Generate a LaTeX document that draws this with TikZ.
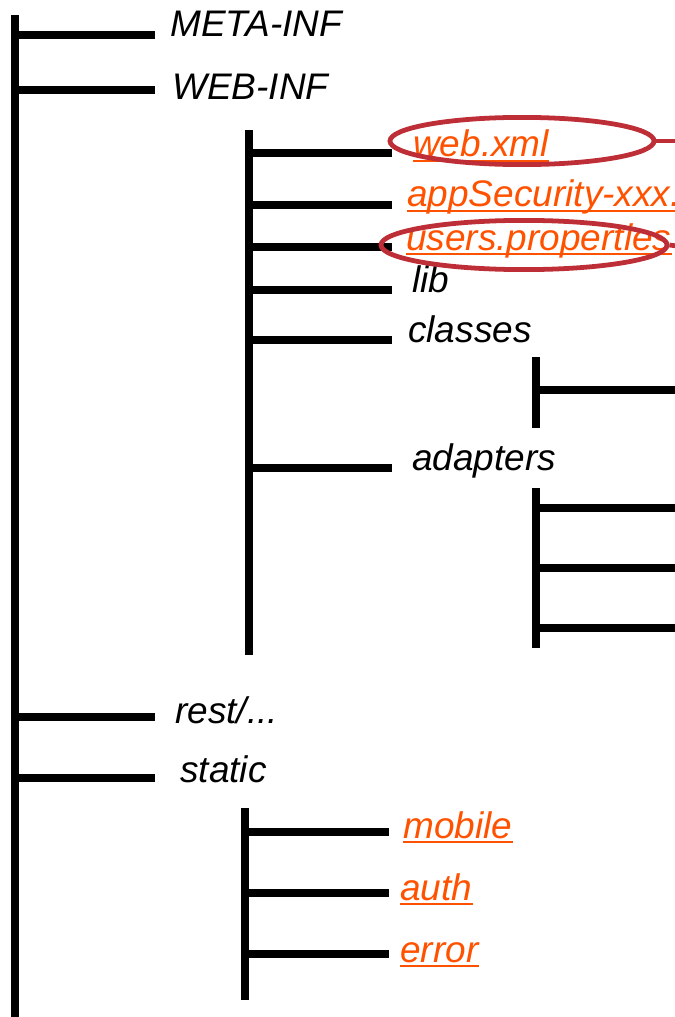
\documentclass[tikz,border=0pt]{standalone}
\usepackage{fontspec}
\setmainfont{Liberation Sans}
\usetikzlibrary{positioning,calc,shapes.geometric}
\definecolor{treeink}{HTML}{000000}
\definecolor{linkorange}{HTML}{FF5200}
\definecolor{ringred}{HTML}{BE2E37}

\begin{document}
\begin{tikzpicture}[x=0.025cm, y=-0.025cm,
  font=\fontsize{26.3}{30}\selectfont\itshape,
  bar/.style={draw=treeink, line width=5pt},
  twig/.style={draw=treeink, line width=5pt},
  lbl/.style={anchor=base west, inner sep=0pt, text=treeink},
  link/.style={anchor=base west, inner sep=0pt, text=linkorange},
  uline/.style={draw=linkorange, line width=1.6pt},
  ring/.style={ellipse, draw=ringred, line width=3.4pt, inner sep=0pt},
  ringline/.style={draw=ringred, line width=3.4pt}]
\useasboundingbox (0,0) rectangle (675,1017);
\clip (0,0) rectangle (675,1017);
% ===== root level =====
\coordinate (rootTop) at (15,15);
\coordinate (rootEnd) at (15,1030);
\draw[bar] (rootTop) -- (rootEnd);
\node[lbl] (meta) at (170,37) {META-INF};
\node[lbl] (webinf) at (172,100) {WEB-INF};
\node[lbl] (rest) at (175,723) {rest/...};
\node[lbl] (static) at (180,782) {static};
\coordinate (metaEnd) at (155,35);
\coordinate (webinfEnd) at (155,90);
\coordinate (restEnd) at (155,717);
\coordinate (staticEnd) at (155,778);
\draw[twig] (rootTop |- metaEnd) -- (metaEnd);
\draw[twig] (rootTop |- webinfEnd) -- (webinfEnd);
\draw[twig] (rootTop |- restEnd) -- (restEnd);
\draw[twig] (rootTop |- staticEnd) -- (staticEnd);
% ===== WEB-INF =====
\coordinate (infTop) at (249,130);
\coordinate (infEnd) at (249,655);
\draw[bar] (infTop) -- (infEnd);
\node[link] (webxml) at (413,157) {web.xml};
\node[link] (appsec) at (407,207) {appSecurity-xxx.xml};
\node[link] (users) at (406,250) {users.properties};
\node[lbl] (lib) at (412,292) {lib};
\node[lbl] (classes) at (408,342) {classes};
\node[lbl] (adapters) at (412,470) {adapters};
\coordinate (webxmlEnd) at (392,153);
\coordinate (appsecEnd) at (392,205);
\coordinate (usersEnd) at (392,247);
\coordinate (libEnd) at (392,290);
\coordinate (classesEnd) at (392,340);
\coordinate (adaptersEnd) at (392,468);
\draw[twig] (infTop |- webxmlEnd) -- (webxmlEnd);
\draw[twig] (infTop |- appsecEnd) -- (appsecEnd);
\draw[twig] (infTop |- usersEnd) -- (usersEnd);
\draw[twig] (infTop |- libEnd) -- (libEnd);
\draw[twig] (infTop |- classesEnd) -- (classesEnd);
\draw[twig] (infTop |- adaptersEnd) -- (adaptersEnd);
\draw[uline] ($(webxml.base west)+(0,4)$) -- ($(webxml.base east)+(0,4)$);
\draw[uline] ($(appsec.base west)+(0,4)$) -- ($(appsec.base east)+(0,4)$);
\draw[uline] ($(users.base west)+(0,4)$) -- ($(users.base east)+(0,4)$);
% highlighted files
\node[ring, minimum width=6.6cm, minimum height=1.18cm] (webRing) at (522,141) {};
\node[ring, minimum width=7.15cm, minimum height=1.23cm] (usersRing) at (524,245) {};
\coordinate (webOut) at (700,141);
\coordinate (usersOut) at (700,249);
\draw[ringline] (webRing.east) -- (webOut);
\draw[ringline] (usersRing.east) -- (usersOut);
% ===== classes / adapters =====
\coordinate (clsTop) at (536,357);
\coordinate (clsEnd) at (536,428);
\draw[bar] (clsTop) -- (clsEnd);
\coordinate (clsOne) at (700,390);
\draw[twig] (clsTop |- clsOne) -- (clsOne);
\coordinate (adpTop) at (536,488);
\coordinate (adpEnd) at (536,648);
\draw[bar] (adpTop) -- (adpEnd);
\coordinate (adpOne) at (700,508);
\coordinate (adpTwo) at (700,568);
\coordinate (adpThree) at (700,628);
\draw[twig] (adpTop |- adpOne) -- (adpOne);
\draw[twig] (adpTop |- adpTwo) -- (adpTwo);
\draw[twig] (adpTop |- adpThree) -- (adpThree);
% ===== static =====
\coordinate (stTop) at (245,808);
\coordinate (stEnd) at (245,1000);
\draw[bar] (stTop) -- (stEnd);
\node[link] (mobile) at (403,838) {mobile};
\node[link] (auth) at (400,900) {auth};
\node[link] (error) at (400,962) {error};
\coordinate (mobileEnd) at (389,832);
\coordinate (authEnd) at (389,893);
\coordinate (errorEnd) at (389,954);
\draw[twig] (stTop |- mobileEnd) -- (mobileEnd);
\draw[twig] (stTop |- authEnd) -- (authEnd);
\draw[twig] (stTop |- errorEnd) -- (errorEnd);
\draw[uline] ($(mobile.base west)+(0,4)$) -- ($(mobile.base east)+(0,4)$);
\draw[uline] ($(auth.base west)+(0,4)$) -- ($(auth.base east)+(0,4)$);
\draw[uline] ($(error.base west)+(0,4)$) -- ($(error.base east)+(0,4)$);
\end{tikzpicture}
\end{document}
